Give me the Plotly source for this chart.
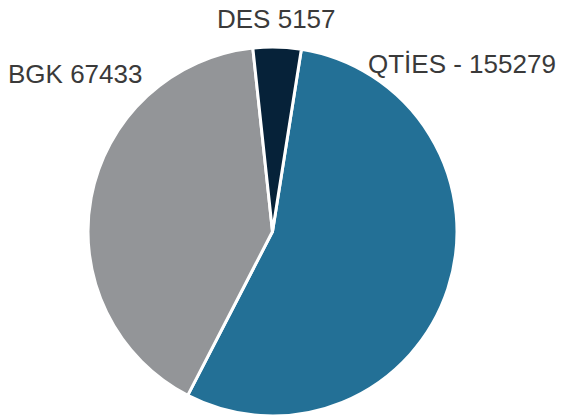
import plotly.graph_objects as go

# slices, clockwise from the top right
labels = ["QTİES - 155279", "BGK 67433", "DES 5157"]
shares = [55.1, 40.7, 4.2]
colors = ["#237096", "#939598", "#062239"]

W, H = 565, 416
OFF = 8  # page body margin pushes the plot 8px right and down


def px_x(px):
    return (px - OFF) / W


def px_y(py):
    return 1 - (py - OFF) / H


fig = go.Figure()
fig.add_trace(go.Pie(
    labels=labels, values=shares,
    sort=False, direction="clockwise", rotation=9,
    marker=dict(colors=colors, line=dict(color="white", width=3)),
    textinfo="none", hoverinfo="label",
    showlegend=False,
    domain=dict(x=[px_x(86), px_x(459)], y=[px_y(416), px_y(47)]),
))

# label positions in pixels (left edge, vertical centre)
label_pos = [(366, 64), (6, 74), (215, 19)]
for text, (px, py) in zip(labels, label_pos):
    fig.add_annotation(
        text=text, x=px_x(px), y=px_y(py), xref="paper", yref="paper",
        xanchor="left", yanchor="middle", showarrow=False,
        font=dict(family="Liberation Sans", size=26, color="#3a3a3a"),
    )

fig.update_layout(
    width=W, height=H,
    margin=dict(l=0, r=0, t=0, b=0),
    paper_bgcolor="white",
)
fig.write_html("out.html")
